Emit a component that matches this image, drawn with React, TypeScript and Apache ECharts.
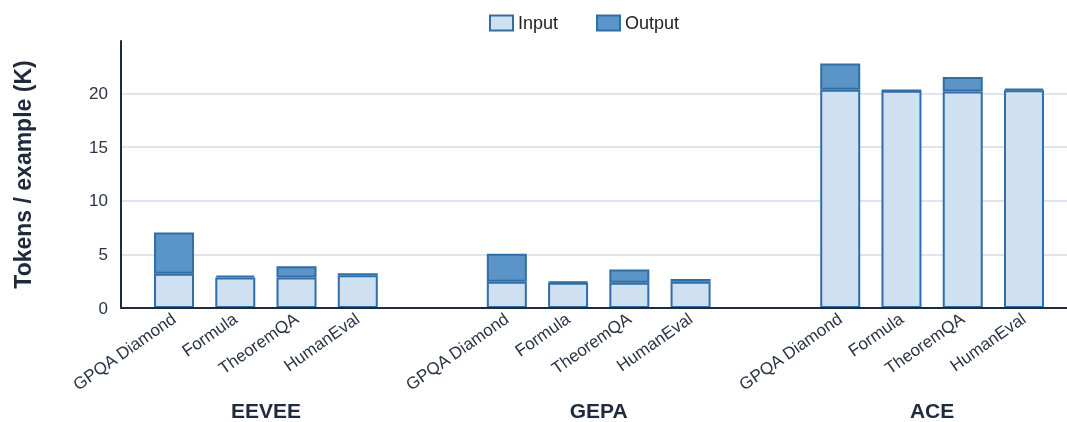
import React, { useEffect, useRef } from "react";
import * as echarts from "echarts";

const groups = ["EEVEE", "GEPA", "ACE"];
const tasks = ["GPQA Diamond", "Formula", "TheoremQA", "HumanEval"];
const inputTokens = [
  [3.2, 2.85, 2.85, 3.05],
  [2.45, 2.35, 2.35, 2.45],
  [20.35, 20.25, 20.2, 20.3],
];
const outputTokens = [
  [3.85, 0.18, 1.05, 0.2],
  [2.6, 0.1, 1.25, 0.25],
  [2.45, 0.05, 1.35, 0.15],
];
const yTicks = [0, 5, 10, 15, 20];

const FONT = "Liberation Sans, Arial, sans-serif";
const TEXT = "#2a3447";
const DARK = "#1f2a3c";
const BORDER = "#2f6ea6";
const IN_FILL = "#cfe0f1";
const OUT_FILL = "#5b94c7";
const GRID_LINE = "#dde6f0";

const Y_MAX = 24.9;

export default function App() {
  const ref = useRef<HTMLDivElement>(null);
  useEffect(() => {
    if (!ref.current) return;
    const chart = echarts.init(ref.current, undefined, { renderer: "svg" });
    const top = 41;
    const bottom = 422 - 308;
    const groupLefts = [143.4, 476.2, 809.6];
    const groupWidth = 245;

    const grid: any[] = [{ left: 121, right: 0, top, bottom, outerBoundsMode: "none", containLabel: false }];
    const xAxis: any[] = [
      {
        gridIndex: 0,
        type: "value",
        min: 0,
        max: 1,
        axisLabel: { show: false },
        axisTick: { show: false },
        splitLine: { show: false },
        axisLine: { show: true, lineStyle: { color: DARK, width: 2 } },
        z: 5,
      },
    ];
    const yAxis: any[] = [
      {
        gridIndex: 0,
        type: "value",
        min: 0,
        max: Y_MAX,
        interval: 5,
        name: "Tokens / example (K)",
        nameLocation: "middle",
        nameGap: 87,
        nameTextStyle: { fontFamily: FONT, fontSize: 23, fontWeight: "bold", color: DARK },
        axisLine: { show: true, lineStyle: { color: DARK, width: 2 } },
        axisTick: { show: false },
        axisLabel: {
          fontFamily: FONT,
          fontSize: 17,
          color: TEXT,
          margin: 13,
          formatter: (v: number) => (yTicks.includes(v) ? String(v) : ""),
        },
        splitLine: {
          show: true,
          lineStyle: {
            width: 2,
            color: [GRID_LINE, GRID_LINE, GRID_LINE, GRID_LINE, GRID_LINE, "rgba(0,0,0,0)"],
          },
        },
      },
    ];
    const series: any[] = [];

    groups.forEach((g, gi) => {
      const idx = gi + 1;
      grid.push({
        left: groupLefts[gi],
        width: groupWidth,
        top,
        bottom,
        outerBoundsMode: "none",
        containLabel: false,
      });
      xAxis.push({
        gridIndex: idx,
        type: "category",
        data: tasks,
        name: g,
        nameLocation: "middle",
        nameGap: 92,
        nameTextStyle: { fontFamily: FONT, fontSize: 21, fontWeight: "bold", color: DARK },
        axisLine: { show: false },
        axisTick: { show: false },
        axisLabel: {
          rotate: 35,
          interval: 0,
          fontFamily: FONT,
          fontSize: 17,
          color: TEXT,
          margin: 9,
        },
      });
      yAxis.push({
        gridIndex: idx,
        type: "value",
        min: 0,
        max: Y_MAX,
        show: false,
        splitLine: { show: false },
      });
      series.push({
        name: "Input",
        type: "bar",
        xAxisIndex: idx,
        yAxisIndex: idx,
        stack: "s" + gi,
        barWidth: 40,
        data: inputTokens[gi],
        itemStyle: { color: IN_FILL, borderColor: BORDER, borderWidth: 2 },
      });
      series.push({
        name: "Output",
        type: "bar",
        xAxisIndex: idx,
        yAxisIndex: idx,
        stack: "s" + gi,
        barWidth: 40,
        data: outputTokens[gi],
        itemStyle: { color: OUT_FILL, borderColor: BORDER, borderWidth: 2 },
      });
    });

    chart.setOption({
      animation: false,
      legend: {
        data: ["Input", "Output"],
        icon: "rect",
        left: 484,
        top: 9,
        itemWidth: 23,
        itemHeight: 15,
        itemGap: 38,
        textStyle: { fontFamily: FONT, fontSize: 18, color: "#222" },
      },
      grid,
      xAxis,
      yAxis,
      series,
    });
    return () => chart.dispose();
  }, []);
  return (
    <div
      ref={ref}
      style={{ position: "fixed", left: 0, top: 0, width: 1067, height: 422 }}
    />
  );
}
